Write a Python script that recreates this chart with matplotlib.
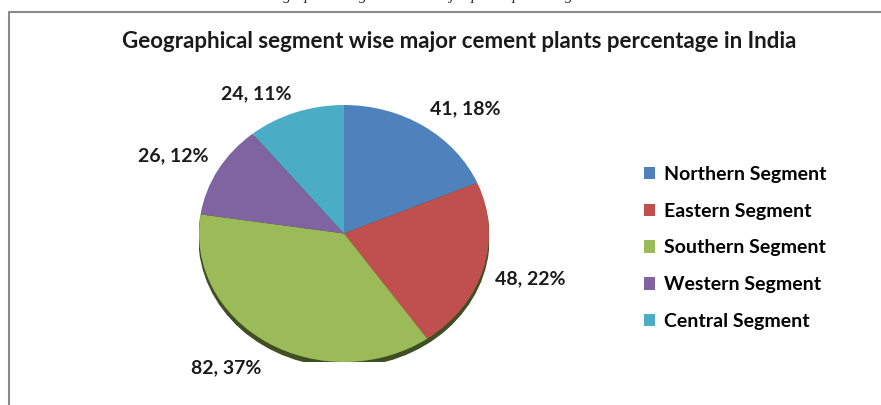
import numpy as np
import matplotlib.pyplot as plt
from matplotlib.lines import Line2D
from matplotlib.patches import Ellipse

# data
segments = ['Northern Segment', 'Eastern Segment', 'Southern Segment',
            'Western Segment', 'Central Segment']
plants = [41, 48, 82, 26, 24]
percent = [18, 22, 37, 12, 11]
colors = ['#4F81BD', '#C0504D', '#9BBB59', '#8064A2', '#4BACC6']

title = 'Geographical segment wise major cement plants percentage in India'
caption = 'Geographical segment wise major plants percentage in India'

W, H = 881, 405
fig = plt.figure(figsize=(W / 100, H / 100), dpi=100)
fig.patch.set_facecolor('white')


def fx(px):
    return px / W


def fy(py):
    return 1 - py / H


# caption of the page above the chart, cut off at the top edge
fig.text(fx(445), fy(0), caption, ha='center', va='baseline',
         family='Liberation Serif', style='italic', fontsize=11, color='#222222')

# chart area border (left and top only visible)
fig.add_artist(Line2D([fx(9), fx(9), fx(W)], [0, fy(12), fy(12)],
                      color='#8a8a8a', lw=1.5))

fig.text(fx(459), fy(42), title, ha='center', va='center',
         family='Lato', weight='bold', fontsize=16, color='#1a1a1a')

# pie axes, elliptic like the tilted excel pie
depth = 0.06  # side of the tilted pie, lower labels sit below it
ax = fig.add_axes([fx(199), fy(362), fx(489) - fx(199), (362 - 105) / H])
ax.add_patch(Ellipse((0.0, -0.035), 2.0, 2.0, color='#3f4f22', zorder=0))
wedges, _ = ax.pie(plants, colors=colors, startangle=90, counterclock=False,
                   radius=1, wedgeprops=dict(linewidth=0))
ax.set_aspect('auto')
ax.set_xlim(-1, 1)
ax.set_ylim(-1, 1)
ax.axis('off')

for w, n, p in zip(wedges, plants, percent):
    mid = np.deg2rad((w.theta1 + w.theta2) / 2)
    c, s = np.cos(mid), np.sin(mid)
    ha = 'left' if c > 0.3 else ('right' if c < -0.3 else 'center')
    va = 'bottom' if s > 0.3 else ('top' if s < -0.3 else 'center')
    y = 1.08 * s - (depth if s < 0 else 0)
    ax.text(1.08 * c, y, f'{n}, {p}%', ha=ha, va=va, clip_on=False,
            family='Lato', weight='bold', fontsize=14, color='#1a1a1a')

fig.legend(wedges, segments, loc='upper left', bbox_to_anchor=(fx(636), fy(158)),
           frameon=False, prop=dict(family='Lato', weight='bold', size=14),
           handlelength=0.6, handleheight=0.6, handletextpad=0.45,
           labelspacing=1.02, borderaxespad=0)

fig.savefig('out.png', dpi=100, facecolor='white')
